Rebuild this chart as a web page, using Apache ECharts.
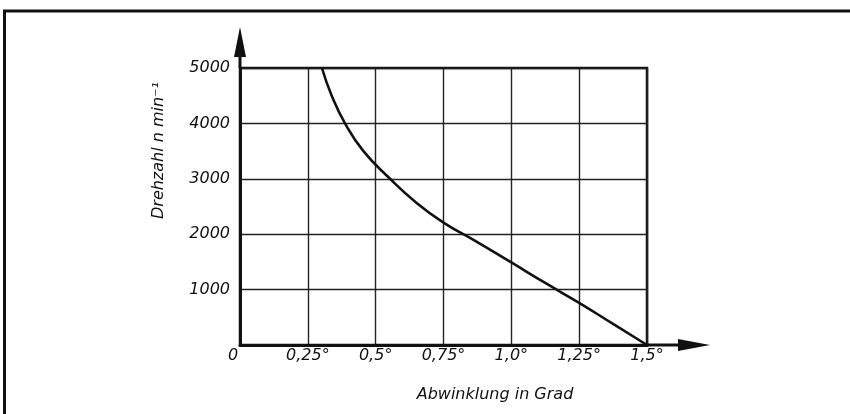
<!DOCTYPE html>
<html><head><meta charset="utf-8">
<script src="https://cdn.jsdelivr.net/npm/echarts@6/dist/echarts.min.js"></script>
<style>html,body{margin:0;padding:0;background:#fff}#c{width:850px;height:414px}</style>
</head><body><div id="c"></div>
<script>
// Data
const angleValues = [0.302, 0.338, 0.387, 0.455, 0.553, 0.652, 0.75, 0.87, 1.0, 1.125, 1.25, 1.375, 1.5];
const speedValues = [5000, 4500, 4000, 3500, 3000, 2560, 2210, 1870, 1490, 1120, 760, 380, 0];
const xTicks = [0, 0.25, 0.5, 0.75, 1.0, 1.25, 1.5];
const xTickLabels = ['0', '0,25°', '0,5°', '0,75°', '1,0°', '1,25°', '1,5°'];
const yTicks = [0, 1000, 2000, 3000, 4000, 5000];
const yTickLabels = ['', '1000', '2000', '3000', '4000', '5000'];
const xName = 'Abwinklung in Grad';
const yName = 'Drehzahl n min⁻¹';

const font = { fontFamily: 'DejaVu Sans', fontStyle: 'italic', fontSize: 16, color: '#111' };
const ink = '#111';

const chart = echarts.init(document.getElementById('c'), null, { renderer: 'canvas' });
const seriesData = angleValues.map((a, i) => [a, speedValues[i]]);

function lookup(ticks, labels, v) {
  for (let i = 0; i < ticks.length; i++) if (Math.abs(ticks[i] - v) < 1e-6) return labels[i];
  return '';
}

chart.setOption({
  animation: false,
  backgroundColor: '#fff',
  grid: { left: 240, right: 203, top: 68, bottom: 69, show: true, borderColor: ink, borderWidth: 2.5, backgroundColor: 'transparent' },
  xAxis: {
    type: 'value', min: 0, max: 1.5, interval: 0.25,
    name: xName, nameLocation: 'middle', nameGap: 42,
    nameTextStyle: Object.assign({}, font, { padding: [0, 0, 0, 103] }),
    axisLine: { show: true, onZero: false, lineStyle: { color: ink, width: 3 } },
    axisTick: { show: false },
    splitLine: { show: true, lineStyle: { color: '#222', width: 1.4 } },
    axisLabel: Object.assign({}, font, {
      margin: 3,
      formatter: v => v === 0 ? '{z|0}' : lookup(xTicks, xTickLabels, v),
      rich: { z: Object.assign({}, font, { padding: [0, 14, 0, 0] }) }
    })
  },
  yAxis: {
    type: 'value', min: 0, max: 5000, interval: 1000,
    name: yName, nameLocation: 'middle', nameGap: 73, nameRotate: 90,
    nameTextStyle: Object.assign({}, font, { padding: [0, 0, 0, 112] }),
    axisLine: { show: true, onZero: false, lineStyle: { color: ink, width: 3 } },
    axisTick: { show: false },
    splitLine: { show: true, lineStyle: { color: '#222', width: 1.4 } },
    axisLabel: Object.assign({}, font, {
      margin: 10,
      formatter: v => lookup(yTicks, yTickLabels, v)
    })
  },
  series: [{
    type: 'line', data: seriesData, showSymbol: false, smooth: 0.5,
    lineStyle: { color: ink, width: 2.6 }, z: 5
  }]
});

// Axis arrows and frame positioned from the chart's own scales
const o = chart.convertToPixel({ gridIndex: 0 }, [0, 0]);
const xe = chart.convertToPixel({ gridIndex: 0 }, [1.5, 0]);
const ye = chart.convertToPixel({ gridIndex: 0 }, [0, 5000]);
const shaftX = 31, headX = 32, shaftY = 11, headY = 30, halfW = 6;
chart.setOption({
  graphic: [
    { type: 'polyline', shape: { points: [[4.5, 414], [4.5, 11], [850, 11]] }, style: { stroke: ink, lineWidth: 3, fill: null } },
    { type: 'line', shape: { x1: xe[0], y1: o[1], x2: xe[0] + shaftX, y2: o[1] }, style: { stroke: ink, lineWidth: 3 } },
    { type: 'polygon', shape: { points: [[xe[0] + shaftX, o[1] - halfW], [xe[0] + shaftX + headX, o[1]], [xe[0] + shaftX, o[1] + halfW]] }, style: { fill: ink } },
    { type: 'line', shape: { x1: o[0], y1: ye[1], x2: o[0], y2: ye[1] - shaftY }, style: { stroke: ink, lineWidth: 3 } },
    { type: 'polygon', shape: { points: [[o[0] - halfW, ye[1] - shaftY], [o[0], ye[1] - shaftY - headY], [o[0] + halfW, ye[1] - shaftY]] }, style: { fill: ink } }
  ]
});
</script>
</body></html>
